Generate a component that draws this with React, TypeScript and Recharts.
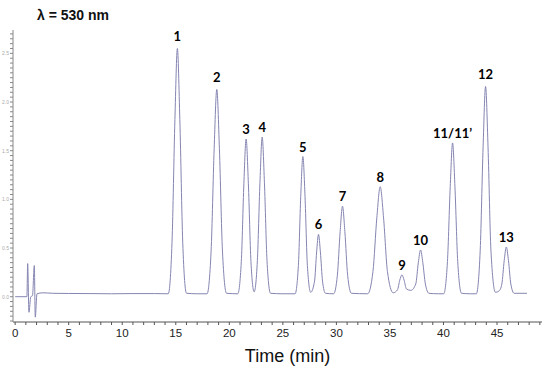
import { ComposedChart, Line, XAxis, YAxis, ReferenceDot } from 'recharts'

// peak labels and apex positions (time in min, signal in arbitrary units)
const peakNames = ['1', '2', '3', '4', '5', '6', '7', '8', '9', '10', '11/11’', '12', '13']
const peakTimes = [15.15, 18.83, 21.57, 23.07, 26.87, 28.33, 30.57, 34.09, 36.12, 37.86, 40.85, 43.93, 45.87]
const peakApex = [255, 213, 162, 164, 144, 64, 93, 113, 22.5, 48, 158, 216, 51]

// trace points [time, signal]
const injection = [
  [0, 0], [1.1, 0], [1.17, 34], [1.29, -16], [1.46, 0], [1.62, 1], [1.79, 32], [1.88, -21], [2.04, 3],
]
const baseline = [
  [2.6, 4], [3.5, 3.5], [5, 3.3], [7, 3.2], [9, 3], [11, 3.2], [13, 3.2], [14.3, 3],
]
const peaks1to4 = [
  [14.65, 56], [14.92, 182], [15.15, 255], [15.38, 182], [15.65, 56], [16.0, 3.5], [17.0, 3],
  [17.92, 3], [18.3, 47], [18.585, 152], [18.83, 213], [19.075, 152], [19.36, 47], [19.74, 3.5],
  [20.79, 3], [21.12, 36], [21.36, 116], [21.57, 162], [21.78, 116], [22.02, 36], [22.32, 5],
  [22.62, 37], [22.86, 117], [23.07, 164], [23.28, 117], [23.52, 37], [23.85, 3.5], [25, 3],
]
const peaks5to8 = [
  [26.14, 3], [26.45, 32], [26.67, 103], [26.87, 144], [27.07, 103], [27.29, 32], [27.6, 4.5],
  [27.96, 16], [28.155, 46], [28.33, 64], [28.505, 46], [28.705, 16], [28.98, 3.5],
  [29.74, 3], [30.09, 22], [30.35, 67], [30.57, 93], [30.79, 67], [31.05, 22], [31.4, 3.5],
  [32.92, 3], [33.415, 26], [33.775, 81], [34.09, 113], [34.405, 81], [34.765, 26], [35.3, 4],
]
const peaks9to13 = [
  [35.7, 7], [35.92, 17], [36.12, 22.5], [36.32, 17], [36.54, 8], [36.95, 6.5],
  [37.41, 13], [37.65, 35], [37.86, 48], [38.07, 35], [38.31, 13], [38.64, 3.5], [39.5, 3],
  [40.02, 3], [40.37, 36], [40.63, 113], [40.85, 158], [41.07, 113], [41.33, 36], [41.68, 3.5],
  [42.5, 3], [43.07, 3], [43.43, 48], [43.7, 154], [43.93, 216], [44.16, 154], [44.43, 48], [44.85, 4.5],
  [45.2, 6], [45.45, 13], [45.67, 37], [45.87, 51], [46.07, 37], [46.29, 13], [46.6, 3.5], [47.8, 3.5],
]

const xMajorTicks = [0, 5, 10, 15, 20, 25, 30, 35, 40, 45]
const xTicks = Array.from({ length: 50 }, (_, i) => i)
const yTicks = Array.from({ length: 60 }, (_, i) => -25 + i * 5)

const data = [...injection, ...baseline, ...peaks1to4, ...peaks5to8, ...peaks9to13].map(([t, v]) => ({ t, v }))
const peaks = peakNames.map((name, i) => ({ name, t: peakTimes[i], v: peakApex[i] }))

const XTick = ({ x, y, payload }: any) =>
  xMajorTicks.includes(payload.value) ? (
    <text x={x} y={y} dy={9} textAnchor="middle" fontSize={11.5} fill="#222" fontFamily="'Liberation Sans', Arial">
      {payload.value}
    </text>
  ) : (
    <g />
  )

const YTick = ({ x, y, payload }: any) =>
  payload.value % 50 === 0 ? (
    <text x={x} y={y} dy={2} textAnchor="end" fontSize={5} fill="#aaa" fontFamily="'Liberation Sans', Arial">
      {(payload.value / 100).toFixed(1)}
    </text>
  ) : (
    <g />
  )

export default function App() {
  return (
    <div style={{ position: 'absolute', left: 0, top: 0, width: 550, height: 368, background: '#fff' }}>
      <div
        style={{
          position: 'absolute',
          left: 37,
          top: 7,
          fontFamily: "'Liberation Sans', Arial, sans-serif",
          fontWeight: 700,
          fontSize: 14,
          lineHeight: '16px',
          color: '#111',
        }}
      >
        λ = 530 nm
      </div>
      <ComposedChart width={550} height={368} data={data} margin={{ top: 30, right: 8, bottom: 6, left: 0 }}>
        <XAxis
          dataKey="t"
          type="number"
          domain={[-0.2, 49.2]}
          ticks={xTicks}
          interval={0}
          tick={<XTick />}
          tickSize={3}
          tickMargin={3}
          height={40}
          stroke="#555"
          label={{
            value: 'Time (min)',
            position: 'insideBottom',
            offset: 0,
            dx: 10,
            fontSize: 18,
            fill: '#111',
            fontFamily: "'Liberation Sans', Arial",
          }}
        />
        <YAxis
          type="number"
          domain={[-26, 274]}
          ticks={yTicks}
          interval={0}
          tick={<YTick />}
          tickSize={3}
          tickMargin={1}
          width={13}
          stroke="#888"
        />
        <Line
          type="monotone"
          dataKey="v"
          stroke="#8585b2"
          strokeWidth={1}
          dot={false}
          isAnimationActive={false}
        />
        {peaks.map((p) => (
          <ReferenceDot
            key={p.name}
            x={p.t}
            y={p.v}
            r={0}
            fill="none"
            stroke="none"
            label={{
              value: p.name,
              position: 'top',
              offset: p.v > 200 ? 7 : 5,
              fontSize: 13,
              fontWeight: 700,
              fill: '#000',
              fontFamily: 'Lato, sans-serif',
            }}
          />
        ))}
      </ComposedChart>
    </div>
  )
}
